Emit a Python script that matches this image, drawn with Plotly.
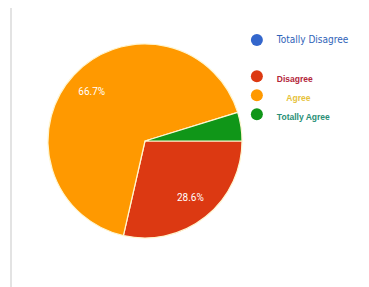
import plotly.graph_objects as go

labels = ["Totally Disagree", "Disagree", "Agree", "Totally Agree"]
values = [0, 6, 14, 1]
slice_colors = ["#3366cc", "#dc3912", "#ff9900", "#109618"]
legend_text_colors = ["#2f63b8", "#b3263a", "#e6c23c", "#2a8f76"]
show_text = ["none", "inside", "inside", "none"]

# the page body has an 8px default margin, so the figure is 8px smaller
W, H = 361, 279
pie_domain = dict(x=[0.1108, 0.6482], y=[0.1756, 0.8710])

fig = go.Figure()

# slices
fig.add_trace(go.Pie(
    labels=labels,
    values=values,
    sort=False,
    direction="clockwise",
    rotation=90,
    marker=dict(colors=slice_colors, line=dict(color="#fff6d0", width=1.2)),
    textinfo="none",
    showlegend=False,
    domain=pie_domain,
))
# percentage labels placed further out (transparent ring on top)
fig.add_trace(go.Pie(
    labels=labels,
    values=values,
    sort=False,
    direction="clockwise",
    rotation=90,
    hole=0.5,
    marker=dict(colors=["rgba(0,0,0,0)"] * len(labels), line=dict(width=0)),
    textinfo="percent",
    textposition=show_text,
    insidetextorientation="horizontal",
    textfont=dict(color="white", size=10, family="Roboto"),
    showlegend=False,
    hoverinfo="skip",
    domain=pie_domain,
))

# legend entries (circle markers)
legend_names = [
    "<span style='font-family:DejaVu Sans Condensed, sans-serif;font-size:10px'>Totally Disagree</span><br> <br> ",
    "<b>Disagree</b>",
    "<b>\u00a0\u00a0\u00a0\u00a0Agree</b>",
    "<b>Totally Agree</b>",
]
for name, c, tc in zip(legend_names, slice_colors, legend_text_colors):
    fig.add_trace(go.Scatter(
        x=[None], y=[None], mode="markers",
        marker=dict(symbol="circle", size=11, color=c),
        name=f"<span style='color:{tc}'>{name}</span>",
        showlegend=True,
    ))

fig.update_layout(
    width=W, height=H,
    margin=dict(l=0, r=0, t=0, b=0, autoexpand=False),
    paper_bgcolor="white", plot_bgcolor="white",
    xaxis=dict(visible=False), yaxis=dict(visible=False),
    legend=dict(
        x=0.634, y=0.928, xanchor="left", yanchor="top",
        font=dict(family="Arial, Liberation Sans", size=8.5),
        itemsizing="constant", valign="top",
        tracegroupgap=0, itemwidth=30,
        bgcolor="rgba(0,0,0,0)",
    ),
    shapes=[dict(type="line", xref="paper", yref="paper",
                 x0=3/W, x1=3/W, y0=0, y1=1,
                 line=dict(color="#e3e3e3", width=2))],
)

fig.write_html("out.html")
